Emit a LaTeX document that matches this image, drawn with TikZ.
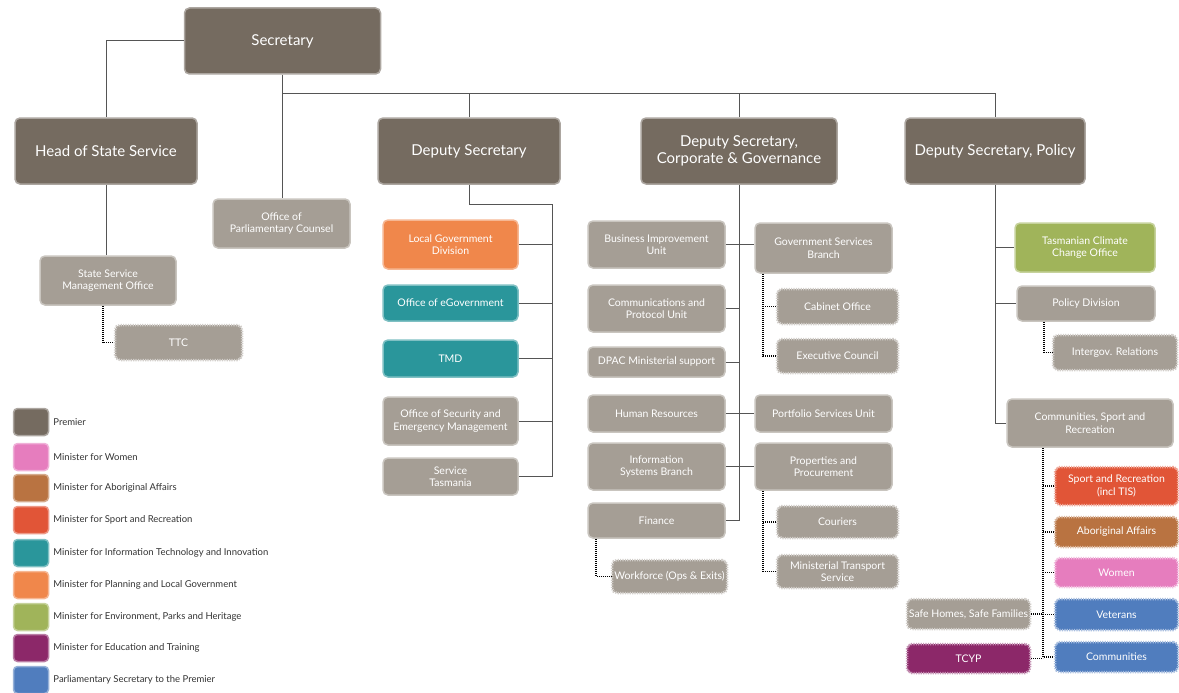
\documentclass[tikz,border=0pt]{standalone}
\usepackage{fontspec}
\setmainfont{Lato}
\usetikzlibrary{positioning}
\newlength{\du}
\setlength{\du}{1pt}

\begin{document}
\begin{tikzpicture}[
  box/.style={rounded corners=5\du, inner sep=1\du, align=center, text=white, line width=1.5\du},
  head/.style={box, fill=premier, draw=premier!60!white, minimum height=66\du, font=\fontsize{15}{17.5}\selectfont},
  unit/.style={box, fill=#1, draw=#1!60!white, font=\fontsize{10.5}{12.5}\selectfont},
  unit/.default=unitgrey,
  sub/.style={unit=#1, draw=white!50!#1, line width=2.5\du, dash pattern=on 1.2\du off 1.2\du},
  sub/.default=unitgrey,
  link/.style={draw=linecol, line width=1\du},
  dotlink/.style={draw=black, line width=1.6\du, dash pattern=on 0.8\du off 1.2\du},
  legbox/.style={rounded corners=4\du, line width=1.5\du, minimum width=35\du, minimum height=27\du},
  legtext/.style={inner sep=0\du, text=black!80, font=\fontsize{9.5}{11}\selectfont}
]
\pgftransformxscale{1.000000}
\pgftransformyscale{-1.000000}
\definecolor{premier}{RGB}{117,107,96}
\definecolor{unitgrey}{RGB}{165,158,149}
\definecolor{linecol}{RGB}{85,85,85}
\definecolor{women}{RGB}{230,125,190}
\definecolor{aboriginal}{RGB}{185,115,65}
\definecolor{sport}{RGB}{225,85,55}
\definecolor{innovation}{RGB}{42,150,155}
\definecolor{planning}{RGB}{240,135,75}
\definecolor{environment}{RGB}{160,180,90}
\definecolor{education}{RGB}{140,40,105}
\definecolor{parlsec}{RGB}{80,125,190}
\useasboundingbox (0\du,0\du) rectangle (1179\du,693\du);

% top level
\node[head, minimum width=196\du] (sec) at (282.5\du,41\du){Secretary};
\node[head, minimum width=182\du] (hss) at (106\du,151\du){Head of State Service};
\node[head, minimum width=182\du] (ds) at (469\du,151\du){Deputy Secretary};
\node[head, minimum width=196\du] (dsc) at (739\du,151\du){Deputy Secretary,\\Corporate \& Governance};
\node[head, minimum width=180\du] (dsp) at (995\du,151\du){Deputy Secretary, Policy};

\node[unit, minimum width=137\du, minimum height=49\du] (opc) at (281.5\du,223.5\du){Office of\\Parliamentary Counsel};
\node[unit, minimum width=136\du, minimum height=49\du] (ssmo) at (108\du,280.5\du){State Service\\Management Office};
\node[sub, minimum width=127\du, minimum height=35\du] (ttc) at (178.5\du,342.5\du){TTC};

% deputy secretary
\node[unit=planning, minimum width=135\du, minimum height=49\du] (lgd) at (450.5\du,244.5\du){Local Government\\Division};
\node[unit=innovation, minimum width=135\du, minimum height=36\du] (egov) at (450.5\du,303\du){Office of eGovernment};
\node[unit=innovation, minimum width=135\du, minimum height=37\du] (tmd) at (450.5\du,358.5\du){TMD};
\node[unit, minimum width=135\du, minimum height=48\du] (osem) at (450.5\du,421\du){Office of Security and\\Emergency Management};
\node[unit, minimum width=135\du, minimum height=37\du] (st) at (450.5\du,476.5\du){Service\\Tasmania};

% corporate and governance
\node[unit, minimum width=137\du, minimum height=47\du] (biu) at (656.5\du,244.5\du){Business Improvement\\Unit};
\node[unit, minimum width=137\du, minimum height=47\du] (cpu) at (656.5\du,308.5\du){Communications and\\Protocol Unit};
\node[unit, minimum width=137\du, minimum height=30\du] (dpac) at (656.5\du,362\du){DPAC Ministerial support};
\node[unit, minimum width=137\du, minimum height=37\du] (hr) at (656.5\du,413.5\du){Human Resources};
\node[unit, minimum width=137\du, minimum height=47\du] (isb) at (656.5\du,466.5\du){Information\\Systems Branch};
\node[unit, minimum width=137\du, minimum height=35\du] (fin) at (656.5\du,520.5\du){Finance};
\node[sub, minimum width=115\du, minimum height=33\du] (wf) at (669.5\du,576.5\du){Workforce (Ops \& Exits)};
\node[unit, minimum width=137\du, minimum height=50\du] (gsb) at (823.5\du,248\du){Government Services\\Branch};
\node[sub, minimum width=121\du, minimum height=35\du] (cab) at (837.5\du,306.5\du){Cabinet Office};
\node[sub, minimum width=121\du, minimum height=34\du] (exc) at (837.5\du,356\du){Executive Council};
\node[unit, minimum width=137\du, minimum height=37\du] (psu) at (823.5\du,413.5\du){Portfolio Services Unit};
\node[unit, minimum width=137\du, minimum height=47\du] (pp) at (823.5\du,466.5\du){Properties and\\Procurement};
\node[sub, minimum width=121\du, minimum height=32\du] (cou) at (837.5\du,522\du){Couriers};
\node[sub, minimum width=121\du, minimum height=33\du] (mts) at (837.5\du,571.5\du){Ministerial Transport\\Service};

% policy
\node[unit=environment, minimum width=140\du, minimum height=49\du] (tcco) at (1085\du,247.5\du){Tasmanian Climate\\Change Office};
\node[unit, minimum width=138\du, minimum height=35\du] (pd) at (1086\du,303.5\du){Policy Division};
\node[sub, minimum width=124\du, minimum height=35\du] (igr) at (1115\du,352.5\du){Intergov. Relations};
\node[unit, minimum width=166\du, minimum height=48\du] (csr) at (1090\du,423\du){Communities, Sport and\\Recreation};
\node[sub=sport, minimum width=123\du, minimum height=38\du] (snr) at (1116.5\du,486\du){Sport and Recreation\\(incl TIS)};
\node[sub=aboriginal, minimum width=123\du, minimum height=30\du] (aa) at (1116.5\du,532\du){Aboriginal Affairs};
\node[sub=women, minimum width=123\du, minimum height=29\du] (wom) at (1116.5\du,572.5\du){Women};
\node[sub=parlsec, minimum width=123\du, minimum height=31\du] (vet) at (1116.5\du,614.5\du){Veterans};
\node[sub=parlsec, minimum width=123\du, minimum height=30\du] (com) at (1116.5\du,657\du){Communities};
\node[sub, minimum width=123\du, minimum height=30\du] (shsf) at (968.5\du,614\du){Safe Homes, Safe Families};
\node[sub=education, minimum width=123\du, minimum height=29\du] (tcyp) at (968.5\du,658.5\du){TCYP};

% connectors
\coordinate (bus) at (282.5\du,94\du);
\draw[link] (sec.west) -| (hss.north);
\draw[link] (sec.south) -- (sec.south |- opc.north);
\draw[link] (bus) -| (ds.north);
\draw[link] (bus) -| (dsc.north);
\draw[link] (bus) -| (dsp.north);
\draw[link] (hss.south) -- (hss.south |- ssmo.north);
\draw[dotlink] ([xshift=-5\du]ssmo.south) |- (ttc.west);

\coordinate (dsspine) at (552\du,204\du);
\draw[link] (ds.south) |- (dsspine) -- (dsspine |- st.east);
\foreach \n in {lgd,egov,tmd,osem,st}
  \draw[link] (\n.east) -- (\n.east -| dsspine);

\draw[link] (dsc.south) -- (dsc.south |- fin.east);
\foreach \n in {cpu,dpac,fin}
  \draw[link] (\n.east) -- (\n.east -| dsc.south);
\foreach \a/\b in {biu/gsb,hr/psu,isb/pp}
  \draw[link] (\a.east) -- (\a.east -| \b.west);
\coordinate (gsbdot) at ([xshift=9\du]gsb.south west);
\draw[dotlink] (gsbdot) |- (exc.west);
\draw[dotlink] (gsbdot |- cab.west) -- (cab.west);
\coordinate (ppdot) at ([xshift=9\du]pp.south west);
\draw[dotlink] (ppdot) |- (mts.west);
\draw[dotlink] (ppdot |- cou.west) -- (cou.west);
\draw[dotlink] ([xshift=9\du]fin.south west) |- (wf.west);

\draw[link] (dsp.south) |- (csr.west);
\foreach \n in {tcco,pd}
  \draw[link] (\n.west -| dsp.south) -- (\n.west);
\draw[dotlink] ([xshift=28\du]pd.south west) |- (igr.west);
\coordinate (csrdot) at ([xshift=37\du]csr.south west);
\draw[dotlink] (csrdot) |- (com.west);
\foreach \n in {snr,aa,wom,vet}
  \draw[dotlink] (csrdot |- \n.west) -- (\n.west);
\foreach \n in {shsf,tcyp}
  \draw[dotlink] (\n.east) -- (\n.east -| csrdot);

% legend
\foreach \c/\ypos/\t in {premier/422/Premier, women/457/Minister for Women,
    aboriginal/488/Minister for Aboriginal Affairs, sport/520/Minister for Sport and Recreation,
    innovation/553/Minister for Information Technology and Innovation,
    planning/585/Minister for Planning and Local Government,
    environment/617/{Minister for Environment, Parks and Heritage},
    education/648/Minister for Education and Training, parlsec/680/Parliamentary Secretary to the Premier}
{
  \node[legbox, fill=\c, draw=\c!60!white] (leg-\c) at (31\du,\ypos\du){};
  \node[legtext, right=4\du of leg-\c] (legtxt-\c){\t};
}
\end{tikzpicture}
\end{document}
